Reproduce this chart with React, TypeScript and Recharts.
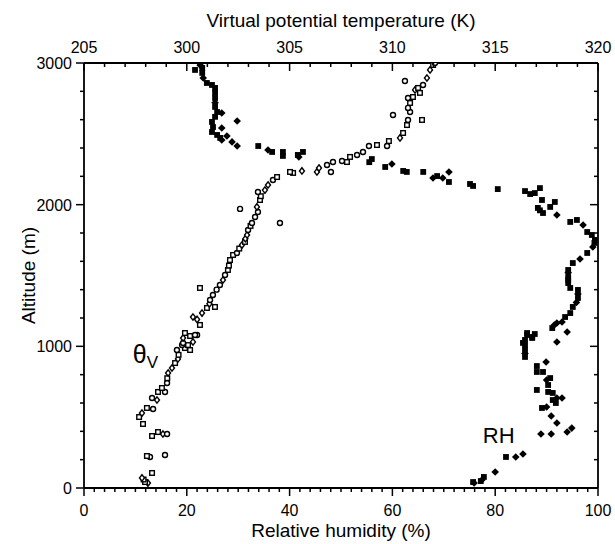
import { ScatterChart, Scatter, XAxis, YAxis, Label, ReferenceDot } from 'recharts';

// relative humidity profile (filled marks)
const rhAltitude = [
  35, 42, 49, 56, 78, 113, 219, 219, 240, 381, 381, 395, 423, 459, 508, 565, 572, 600, 621, 635,
  635, 671, 678, 692, 727, 762, 776, 819, 819, 861, 889, 925, 950, 974, 1009, 1024, 1031, 1045, 1059, 1066,
  1080, 1087, 1094, 1101, 1129, 1151, 1165, 1172, 1207, 1235, 1278, 1310, 1341, 1370, 1398, 1412, 1447, 1470, 1489, 1520,
  1539, 1588, 1617, 1659, 1701, 1730, 1751, 1786, 1807, 1857, 1878, 1892, 1927, 1941, 1960, 1977, 1984, 2019, 2033, 2075,
  2082, 2096, 2110, 2117, 2132, 2146, 2160, 2188, 2188, 2202, 2231, 2231, 2231, 2238, 2266, 2287, 2300, 2322, 2337, 2344,
  2351, 2372, 2372, 2372, 2386, 2414, 2414, 2443, 2457, 2471, 2485, 2492, 2513, 2541, 2548, 2584, 2591, 2620, 2647, 2654,
  2690, 2720, 2753, 2790, 2824, 2845, 2859, 2894, 2930, 2951, 2965, 2985, 3000,
];
const rhValues = [
  75.9, 75.7, 77.2, 77.4, 77.8, 80.0, 82.1, 84.0, 85.4, 88.9, 90.9, 94.0, 94.9, 92.0, 90.9, 89.1, 90.0, 91.8, 91.2, 92.0,
  93.0, 91.2, 90.3, 88.1, 90.3, 90.0, 90.7, 89.3, 88.1, 88.1, 89.9, 85.8, 85.8, 85.8, 85.8, 85.4, 92.0, 85.8, 87.2, 87.2,
  86.2, 87.7, 86.2, 94.0, 91.1, 91.5, 92.0, 93.0, 93.6, 94.6, 95.1, 95.8, 96.1, 96.1, 96.1, 94.6, 94.2, 94.2, 94.2, 94.2,
  94.2, 95.1, 96.5, 97.9, 99.0, 99.3, 99.4, 98.8, 97.9, 97.1, 94.6, 95.9, 92.0, 89.3, 88.7, 88.3, 90.7, 91.6, 89.1, 86.8,
  87.7, 85.8, 80.5, 88.7, 75.7, 75.1, 71.0, 67.9, 69.8, 68.7, 66.0, 62.8, 71.0, 62.1, 58.6, 59.9, 55.5, 56.0, 41.8, 38.7,
  41.6, 42.6, 38.7, 36.6, 35.8, 33.9, 29.8, 28.8, 26.8, 26.5, 27.8, 25.9, 24.9, 26.8, 25.1, 24.9, 29.8, 25.5, 26.8, 25.9,
  25.5, 25.5, 25.5, 25.5, 25.5, 24.9, 23.9, 23.2, 23.0, 21.6, 23.0, 22.6, 22.6,
];

// virtual potential temperature profile (open marks)
const thetaAltitude = [
  35, 42, 60, 71, 106, 219, 226, 233, 367, 381, 381, 395, 452, 501, 529, 565, 558, 621, 635, 678,
  678, 706, 741, 775, 812, 847, 882, 911, 940, 974, 974, 988, 1009, 1009, 1024, 1031, 1059, 1073, 1080, 1080,
  1094, 1151, 1190, 1207, 1235, 1271, 1278, 1300, 1327, 1362, 1400, 1412, 1433, 1468, 1504, 1539, 1570, 1609, 1645, 1659,
  1690, 1715, 1737, 1760, 1786, 1821, 1850, 1871, 1871, 1913, 1948, 1970, 1984, 2033, 2060, 2089, 2103, 2139, 2174, 2195,
  2224, 2231, 2238, 2231, 2231, 2259, 2280, 2301, 2308, 2301, 2337, 2351, 2372, 2414, 2421, 2414, 2449, 2471, 2506, 2562,
  2598, 2598, 2633, 2654, 2683, 2718, 2753, 2760, 2789, 2810, 2824, 2845, 2873, 2894, 2951, 2986, 3000,
];
const thetaValues = [
  298.11, 297.97, 297.9, 297.82, 298.31, 298.21, 298.06, 298.94, 298.31, 298.84, 299.04, 298.6, 297.87, 297.68, 297.82, 298.06, 298.36, 298.55, 298.31, 298.6,
  298.94, 298.79, 299.04, 299.05, 299.09, 299.28, 299.43, 299.57, 299.6, 299.52, 300.16, 299.91, 299.77, 300.06, 299.82, 300.3, 299.82, 300.16, 300.5, 300.4,
  299.91, 300.64, 300.5, 300.3, 300.74, 300.98, 301.37, 301.1, 301.13, 301.27, 301.45, 300.64, 301.61, 301.76, 301.86, 302.0, 302.05, 302.1, 302.25, 302.44,
  302.55, 302.68, 302.83, 302.85, 302.93, 302.98, 303.1, 303.17, 304.53, 303.32, 303.46, 302.59, 303.41, 303.56, 303.6, 303.46, 303.8, 303.95, 304.19, 304.39,
  305.17, 305.02, 305.6, 306.33, 307.01, 306.43, 306.82, 307.11, 307.55, 307.79, 307.94, 308.28, 308.57, 308.86, 309.25, 309.74, 309.83, 310.37, 310.52, 310.71,
  310.76, 311.44, 310.03, 310.86, 310.76, 310.86, 310.76, 311.0, 311.34, 311.1, 311.25, 311.49, 310.61, 311.68, 311.83, 311.98, 312.07,
];

const rhTicks = Array.from({ length: 51 }, (_, i) => i * 2);
const rhMajor = [0, 20, 40, 60, 80, 100];
const thetaTicks = Array.from({ length: 26 }, (_, i) => 295 + i);
const thetaMajor = [295, 300, 305, 310, 315, 320];
const thetaTickLabels = ['205', '300', '305', '310', '315', '320'];
const altTicks = Array.from({ length: 16 }, (_, i) => i * 200);
const altMajor = [0, 1000, 2000, 3000];

const rhData = rhAltitude.map((alt, i) => ({ alt, rh: rhValues[i] }));
const thetaData = thetaAltitude.map((alt, i) => ({ alt, th: thetaValues[i] }));

const FONT = '"Liberation Sans", Arial, Helvetica, sans-serif';

const isMajor = (list: number[], v: number) => list.some((m) => Math.abs(m - v) < 1e-6);

function makeTick(side: 'top' | 'bottom' | 'left' | 'right', majors: number[], label?: (v: number) => string) {
  return (props: any) => {
    const { x, y, payload } = props;
    const v = payload.value;
    const major = isMajor(majors, v);
    const len = major ? 8 : 4;
    let line;
    let text = null;
    if (side === 'top') {
      line = <line x1={x} y1={y} x2={x} y2={y + len} stroke="#000" strokeWidth={1.5} />;
      if (major && label) text = <text x={x} y={y - 10} textAnchor="middle" fontSize={16} fontFamily={FONT} fill="#000">{label(v)}</text>;
    } else if (side === 'bottom') {
      line = <line x1={x} y1={y} x2={x} y2={y + len} stroke="#000" strokeWidth={1.5} />;
      if (major && label) text = <text x={x} y={y + 28} textAnchor="middle" fontSize={16} fontFamily={FONT} fill="#000">{label(v)}</text>;
    } else if (side === 'left') {
      line = <line x1={x - len} y1={y} x2={x} y2={y} stroke="#000" strokeWidth={1.5} />;
      if (major && label) text = <text x={x - 12} y={y + 6} textAnchor="end" fontSize={16} fontFamily={FONT} fill="#000">{label(v)}</text>;
    } else {
      line = <line x1={x} y1={y} x2={x - len} y2={y} stroke="#000" strokeWidth={1.5} />;
    }
    return (
      <g>
        {line}
        {text}
      </g>
    );
  };
}

const filledMark = (props: any) => {
  const { cx, cy } = props;
  if (cx == null || cy == null) return <g />;
  const k = Math.abs(Math.round(cx * 7 + cy * 3)) % 3;
  if (k === 1) {
    return <path d={`M${cx},${cy - 3.8}L${cx + 3.8},${cy}L${cx},${cy + 3.8}L${cx - 3.8},${cy}Z`} fill="#000" />;
  }
  return <rect x={cx - 2.9} y={cy - 2.9} width={5.8} height={5.8} fill="#000" />;
};

const openMark = (props: any) => {
  const { cx, cy } = props;
  if (cx == null || cy == null) return <g />;
  const k = Math.abs(Math.round(cx * 7 + cy * 3)) % 3;
  if (k === 0) return <circle cx={cx} cy={cy} r={2.5} fill="#fff" stroke="#000" strokeWidth={1.4} />;
  if (k === 1) {
    return <path d={`M${cx},${cy - 3.2}L${cx + 2.5},${cy}L${cx},${cy + 3.2}L${cx - 2.5},${cy}Z`} fill="#fff" stroke="#000" strokeWidth={1.4} />;
  }
  return <rect x={cx - 2.3} y={cy - 2.3} width={4.6} height={4.6} fill="#fff" stroke="#000" strokeWidth={1.4} />;
};

const axisLine = { stroke: '#000', strokeWidth: 1.8 };

export default function App() {
  return (
    <div style={{ position: 'absolute', left: 0, top: 0, background: '#fff' }}>
      <ScatterChart width={615} height={544} margin={{ top: 0, right: 0, bottom: 0, left: 0 }}>
        <XAxis
          xAxisId="rh"
          dataKey="rh"
          type="number"
          orientation="bottom"
          domain={[0, 100]}
          allowDataOverflow
          ticks={rhTicks}
          interval={0}
          height={56}
          tickSize={0}
          tickMargin={0}
          tickLine={false}
          axisLine={axisLine}
          tick={makeTick('bottom', rhMajor, (v) => String(v))}
        >
          <Label
            content={(p: any) => {
              const vb = p.viewBox;
              return (
                <text x={vb.x + vb.width / 2} y={vb.y + 49} textAnchor="middle" fontSize={19} fontFamily={FONT} fill="#000">
                  Relative humidity (%)
                </text>
              );
            }}
          />
        </XAxis>
        <XAxis
          xAxisId="th"
          dataKey="th"
          type="number"
          orientation="top"
          domain={[295, 320]}
          allowDataOverflow
          ticks={thetaTicks}
          interval={0}
          height={63}
          tickSize={0}
          tickMargin={0}
          tickLine={false}
          axisLine={axisLine}
          tick={makeTick('top', thetaMajor, (v) => thetaTickLabels[thetaMajor.findIndex((m) => Math.abs(m - v) < 1e-6)])}
        >
          <Label
            content={(p: any) => {
              const vb = p.viewBox;
              return (
                <text x={vb.x + vb.width / 2} y={vb.y + 27} textAnchor="middle" fontSize={19} fontFamily={FONT} fill="#000">
                  Virtual potential temperature (K)
                </text>
              );
            }}
          />
        </XAxis>
        <YAxis
          yAxisId="alt"
          dataKey="alt"
          type="number"
          orientation="left"
          domain={[0, 3000]}
          allowDataOverflow
          ticks={altTicks}
          interval={0}
          width={84}
          tickSize={0}
          tickMargin={0}
          tickLine={false}
          axisLine={axisLine}
          tick={makeTick('left', altMajor, (v) => String(v))}
        >
          <Label
            content={(p: any) => {
              const vb = p.viewBox;
              const cy = vb.y + vb.height / 2;
              return (
                <text x={35} y={cy} transform={`rotate(-90 35 ${cy})`} textAnchor="middle" fontSize={19} fontFamily={FONT} fill="#000">
                  Altitude (m)
                </text>
              );
            }}
          />
        </YAxis>
        <YAxis
          yAxisId="alt2"
          dataKey="alt"
          type="number"
          orientation="right"
          domain={[0, 3000]}
          allowDataOverflow
          ticks={altTicks}
          interval={0}
          width={17}
          tickSize={0}
          tickMargin={0}
          tickLine={false}
          axisLine={axisLine}
          tick={makeTick('right', altMajor)}
        />
        <Scatter
          name="RH"
          data={rhData}
          xAxisId="rh"
          yAxisId="alt"
          shape={filledMark}
          isAnimationActive={false}
        />
        <Scatter
          name="θv"
          data={thetaData}
          xAxisId="th"
          yAxisId="alt2"
          shape={openMark}
          isAnimationActive={false}
        />
        <ReferenceDot
          xAxisId="rh"
          yAxisId="alt"
          x={9.5}
          y={880}
          r={0}
          fill="none"
          stroke="none"
          label={(p: any) => {
            const vb = p.viewBox;
            return (
              <text x={vb.x} y={vb.y} fontSize={25} fontFamily={FONT} fill="#000">
                θ<tspan fontSize={17} dy={5}>V</tspan>
              </text>
            );
          }}
        />
        <ReferenceDot
          xAxisId="rh"
          yAxisId="alt"
          x={77.6}
          y={318}
          r={0}
          fill="none"
          stroke="none"
          label={(p: any) => {
            const vb = p.viewBox;
            return (
              <text x={vb.x} y={vb.y} fontSize={22} fontFamily={FONT} fill="#000">
                RH
              </text>
            );
          }}
        />
      </ScatterChart>
    </div>
  );
}
